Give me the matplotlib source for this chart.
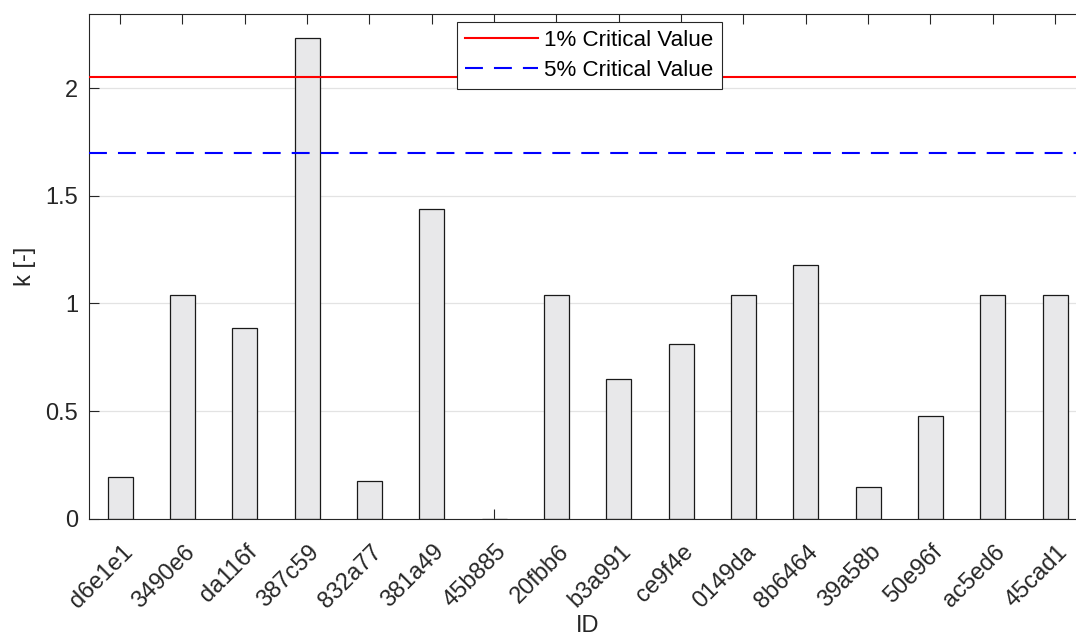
import matplotlib
matplotlib.use("Agg")
import matplotlib.pyplot as plt
import matplotlib.transforms as mtransforms
import numpy as np

# k value per ID
ids = ["d6e1e1", "3490e6", "da116f", "387c59", "832a77", "381a49", "45b885", "20fbb6",
       "b3a991", "ce9f4e", "0149da", "8b6464", "39a58b", "50e96f", "ac5ed6", "45cad1"]
k_values = [0.192, 1.037, 0.884, 2.233, 0.176, 1.437, 0.0, 1.037,
            0.647, 0.810, 1.037, 1.177, 0.147, 0.476, 1.037, 1.037]

# critical values
crit_1 = 2.05
crit_5 = 1.70

yticks = [0, 0.5, 1, 1.5, 2]
ytick_labels = ["0", "0.5", "1", "1.5", "2"]

plt.rcParams["font.family"] = ["Liberation Sans", "DejaVu Sans"]
dark = "#262626"

fig = plt.figure(figsize=(10.76, 6.37), dpi=100)
W, H = 1076, 637
ax = fig.add_axes([89 / W, (H - 518.7) / H, (1086.2 - 89) / W, (518.7 - 14) / H])

x = np.arange(1, len(ids) + 1)
ax.bar(x, k_values, width=0.4, color="#e8e8ea", edgecolor="#1a1a1a", linewidth=0.9, zorder=2)

ax.axhline(crit_1, color="#ff0000", linewidth=1.5, zorder=3, label="1% Critical Value")
ax.axhline(crit_5, color="#0000ff", linewidth=1.5, linestyle=(0, (8.6, 5.3)), zorder=3,
           label="5% Critical Value")

ax.set_xlim(0.5, len(ids) + 0.5)
ax.set_ylim(0, 2.344)
ax.set_axisbelow(True)
ax.grid(axis="y", color="#e3e3e3", linewidth=0.9)

ax.set_xticks(x)
ax.set_xticklabels(ids, rotation=45, ha="right", va="center", rotation_mode="anchor")
ax.set_yticks(yticks)
ax.set_yticklabels(ytick_labels)
ax.tick_params(axis="both", direction="in", length=7.2, width=0.8, color=dark,
               labelcolor=dark, labelsize=17, top=True, right=True)
ax.tick_params(axis="x", pad=21.5)
ax.tick_params(axis="y", pad=8)

offset = mtransforms.ScaledTranslation(9 / 100, 0, fig.dpi_scale_trans)
for lab in ax.get_xticklabels():
    lab.set_transform(lab.get_transform() + offset)

for side in ["left", "bottom", "top", "right"]:
    ax.spines[side].set_color(dark)
    ax.spines[side].set_linewidth(0.8)

ax.set_xlabel("ID", fontsize=17, color=dark, va="center")
ax.xaxis.set_label_coords(0.5, (518.7 - 626.5) / (518.7 - 14))
ax.set_ylabel("k [-]", fontsize=17, color=dark, va="center")
ax.yaxis.set_label_coords((25 - 89) / (1086.2 - 89), 0.5)

leg = ax.legend(loc="upper left", bbox_to_anchor=(456.7 / W, 1 - 21.7 / H),
                bbox_transform=fig.transFigure, borderaxespad=0, fontsize=16.1,
                fancybox=False, framealpha=1, edgecolor=dark, handlelength=3.26,
                handletextpad=0.27, borderpad=0.38, labelspacing=0.39)
leg.get_frame().set_linewidth(0.8)
for t in leg.get_texts():
    t.set_color("#000000")

fig.savefig("out.png", dpi=100)
